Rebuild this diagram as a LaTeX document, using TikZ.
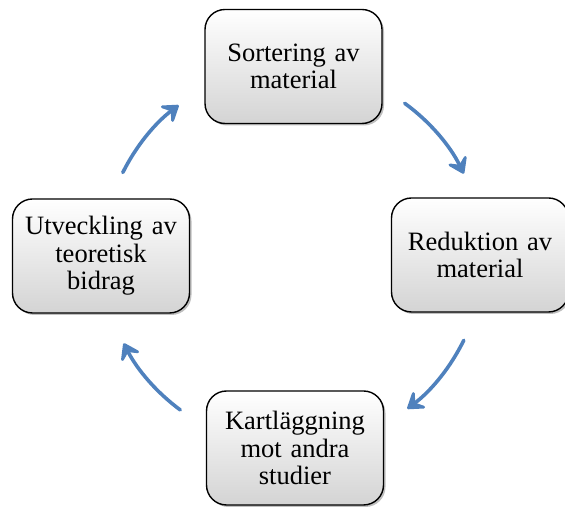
\documentclass[tikz,border=0pt]{standalone}
\usepackage{fontspec}
\setmainfont{Liberation Serif}[WordSpace=0.8]
\usetikzlibrary{arrows.meta,shadows,calc}
\definecolor{cyclearrow}{RGB}{79,129,189}
\tikzset{
  stage/.style={
    draw=black, line width=1.4pt, rounded corners=20pt,
    minimum width=177pt, minimum height=114pt,
    text width=172pt, align=center,
    top color=white, bottom color=black!17,
    drop shadow={shadow xshift=2pt, shadow yshift=-2pt, opacity=0.25, fill=black},
    font=\fontsize{26.5}{27.5}\selectfont, inner sep=0pt
  },
  cycle/.style={
    draw=cyclearrow, line width=3.6pt, line cap=round,
    -{Stealth[length=20pt,width=27pt,inset=9pt,round]}
  }
}
\begin{document}
\begin{tikzpicture}[x=1pt,y=1pt]
  \useasboundingbox (0,0) rectangle (565,508);
  % stages of the cycle
  \node[stage] (sort) at (293.5,441.5) {Sortering av\\material};
  \node[stage] (red)  at (480,253)   {Reduktion av\\material};
  \node[stage] (kart) at (295,60)    {Kartläggning\\mot andra\\studier};
  \node[stage] (utv)  at (101,252)   {Utveckling av\\teoretisk\\bidrag};
  % arrows on a common circle round the middle
  \coordinate (mid) at (293,251);
  \coordinate (a1) at ($(mid)+(54:190pt)$);
  \coordinate (a2) at ($(mid)+(-26:190pt)$);
  \coordinate (a3) at ($(mid)+(233.6:190pt)$);
  \coordinate (a4) at ($(mid)+(153.6:190pt)$);
  \draw[cycle] (a1) arc[start angle=54, end angle=26, radius=190pt];
  \draw[cycle] (a2) arc[start angle=-26, end angle=-53, radius=190pt];
  \draw[cycle] (a3) arc[start angle=233.6, end angle=207, radius=190pt];
  \draw[cycle] (a4) arc[start angle=153.6, end angle=127, radius=190pt];
\end{tikzpicture}
\end{document}
